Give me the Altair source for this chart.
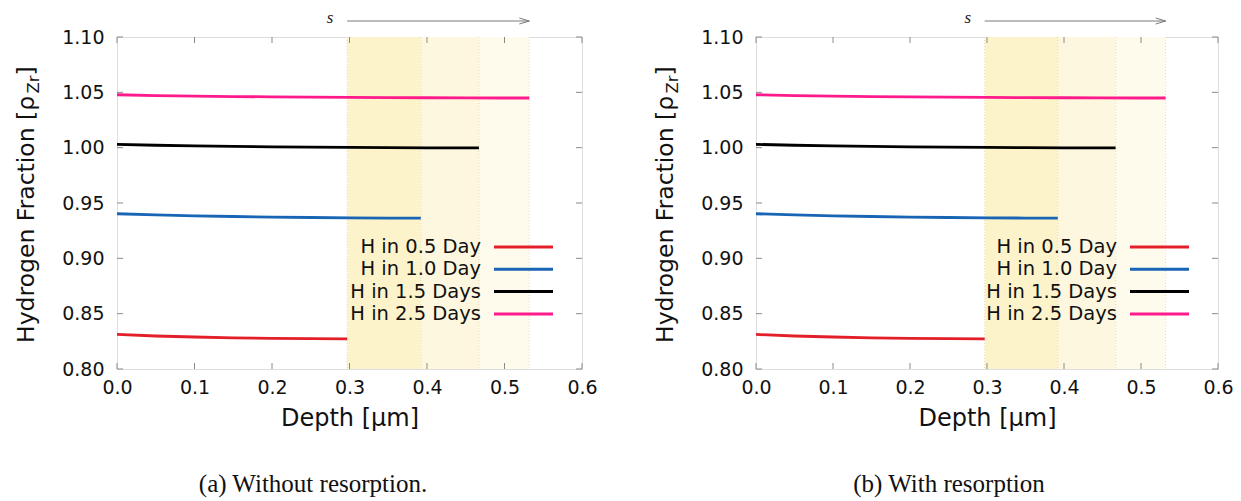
import altair as alt
import pandas as pd

# Hydrogen profiles along depth (µm) for each charging time
depth_05 = [0.0, 0.05, 0.10, 0.15, 0.20, 0.25, 0.297]
frac_05 = [0.8312, 0.8298, 0.8289, 0.8282, 0.8277, 0.8274, 0.8272]

depth_10 = [0.0, 0.05, 0.10, 0.15, 0.20, 0.25, 0.30, 0.35, 0.392]
frac_10 = [0.9403, 0.9392, 0.9384, 0.9378, 0.9373, 0.9369, 0.9366, 0.9364, 0.9363]

depth_15 = [0.0, 0.05, 0.10, 0.15, 0.20, 0.25, 0.30, 0.35, 0.40, 0.467]
frac_15 = [1.0030, 1.0022, 1.0016, 1.0011, 1.0007, 1.0004, 1.0002, 1.0000, 0.9999, 0.9998]

depth_25 = [0.0, 0.05, 0.10, 0.15, 0.20, 0.25, 0.30, 0.35, 0.40, 0.45, 0.50, 0.532]
frac_25 = [1.0478, 1.0471, 1.0466, 1.0462, 1.0459, 1.0456, 1.0454, 1.0452, 1.0451, 1.0450, 1.0449, 1.0449]

series_names = ["H in 0.5 Day", "H in 1.0 Day", "H in 1.5 Days", "H in 2.5 Days"]
series_colors = ["#e3202a", "#1765b4", "#000000", "#ff1a8c"]

# Shaded depth bands (surface layer growth)
shade_start = [0.297, 0.392, 0.467]
shade_end = [0.392, 0.467, 0.532]
shade_names = ["band1", "band2", "band3"]
shade_colors = ["#fdf3cb", "#fdf7df", "#fefaec"]
shade_edges = [0.297, 0.392, 0.467, 0.532]

arrow_from = 0.297
arrow_to = 0.532
arrow_label_x = 0.275

x_ticks = [0.0, 0.1, 0.2, 0.3, 0.4, 0.5, 0.6]
y_ticks = [0.80, 0.85, 0.90, 0.95, 1.00, 1.05, 1.10]

captions = ["(a) Without resorption.", "(b) With resorption"]

H = 332
SANS = "DejaVu Sans"
SERIF = "Liberation Serif"

rows = []
for name, ds, fs in zip(series_names,
                        [depth_05, depth_10, depth_15, depth_25],
                        [frac_05, frac_10, frac_15, frac_25]):
    for d, f in zip(ds, fs):
        rows.append({"series": name, "depth": d, "frac": f})
lines_df = pd.DataFrame(rows)


def panel(width, caption, cap_x):
    xs = alt.Scale(domain=[0, 0.6], nice=False, zero=False)
    ys = alt.Scale(domain=[0.8, 1.1], nice=False, zero=False)
    xa = alt.Axis(values=x_ticks, format=".1f", ticks=False, domain=False, grid=False,
                  labelFlush=False, labelFont=SANS, labelFontSize=19, labelColor="#111",
                  labelPadding=9, title="Depth [μm]", titleFont=SANS, titleFontSize=24,
                  titleFontWeight="normal", titleColor="#111", titlePadding=9)
    ya = alt.Axis(values=y_ticks, format=".2f", ticks=False, domain=False, grid=False,
                  labelFlush=False, labelFont=SANS, labelFontSize=19, labelColor="#111",
                  labelPadding=13, title=None)

    def X(field=None, datum=None):
        if datum is not None:
            return alt.X(datum=datum, type="quantitative", scale=xs, axis=xa)
        return alt.X(field, type="quantitative", scale=xs, axis=xa)

    def Y(field):
        return alt.Y(field, type="quantitative", scale=ys, axis=ya)

    layers = []

    bands = pd.DataFrame({"s": shade_start, "e": shade_end, "band": shade_names})
    layers.append(
        alt.Chart(bands).mark_rect().encode(
            x=X("s"), x2="e", y=alt.value(0), y2=alt.value(H),
            fill=alt.Fill("band:N", scale=alt.Scale(domain=shade_names, range=shade_colors),
                          legend=None),
        )
    )
    layers.append(
        alt.Chart(pd.DataFrame({"b": shade_edges})).mark_rule(
            color="#e2d79f", strokeWidth=0.8, strokeDash=[1, 2]
        ).encode(x=X("b"), y=alt.value(0), y2=alt.value(H))
    )

    xt = pd.DataFrame({"t": x_ticks})
    yt = pd.DataFrame({"t": y_ticks})
    tick_color = "#8a8a8a"
    layers.append(alt.Chart(xt).mark_rule(color=tick_color).encode(
        x=X("t"), y=alt.value(H), y2=alt.value(H - 6)))
    layers.append(alt.Chart(xt).mark_rule(color=tick_color).encode(
        x=X("t"), y=alt.value(0), y2=alt.value(6)))
    layers.append(alt.Chart(yt).mark_rule(color=tick_color).encode(
        y=Y("t"), x=alt.value(0), x2=alt.value(6)))
    layers.append(alt.Chart(yt).mark_rule(color=tick_color).encode(
        y=Y("t"), x=alt.value(width), x2=alt.value(width - 6)))

    layers.append(
        alt.Chart(lines_df).mark_line(strokeWidth=2.8).encode(
            x=X("depth"), y=Y("frac"),
            stroke=alt.Stroke("series:N",
                              scale=alt.Scale(domain=series_names, range=series_colors),
                              legend=None),
        )
    )

    # key drawn inside the plot: label, then sample line
    for i, (name, col) in enumerate(zip(series_names, series_colors)):
        yy = 210 + 22.3 * i
        layers.append(
            alt.Chart(pd.DataFrame({"label": [name]})).mark_text(
                align="right", baseline="middle", font=SANS, fontSize=19.5, color="#111"
            ).encode(x=alt.value(width - 101), y=alt.value(yy), text="label:N")
        )
        layers.append(
            alt.Chart(pd.DataFrame({"label": [name]})).mark_rule(
                color=col, strokeWidth=3
            ).encode(x=alt.value(width - 88), x2=alt.value(width - 29), y=alt.value(yy))
        )

    # growth arrow above the frame
    one = pd.DataFrame({"k": [0]})
    layers.append(
        alt.Chart(one).mark_rule(color="#7a7a7a", strokeWidth=1).encode(
            x=X(datum=arrow_from), x2=alt.datum(arrow_to), y=alt.value(-16))
    )
    layers.append(
        alt.Chart(one).mark_point(
            shape="M-1,-0.3L0,0L-1,0.3", filled=False, size=400,
            color="#7a7a7a", strokeWidth=1, opacity=1
        ).encode(x=X(datum=arrow_to), y=alt.value(-16))
    )
    layers.append(
        alt.Chart(pd.DataFrame({"label": ["s"]})).mark_text(
            font=SERIF, fontStyle="italic", fontSize=17, baseline="middle", color="#222"
        ).encode(x=X(datum=arrow_label_x), y=alt.value(-19), text="label:N")
    )

    # rotated axis title with subscript
    title_base = 306
    main_len = 10.613 * 23.5
    sub_len = (0.685 + 0.411) * 16.5
    pieces = [
        ("Hydrogen Fraction [ρ", 23.5, -83, title_base),
        ("Zr", 16.5, -78, title_base - main_len),
        ("]", 23.5, -83, title_base - main_len - sub_len),
    ]
    for txt, fsz, px, py in pieces:
        layers.append(
            alt.Chart(pd.DataFrame({"label": [txt]})).mark_text(
                angle=270, align="left", baseline="alphabetic", font=SANS, fontSize=fsz,
                color="#111"
            ).encode(x=alt.value(px), y=alt.value(py), text="label:N")
        )

    layers.append(
        alt.Chart(pd.DataFrame({"label": [caption]})).mark_text(
            font=SERIF, fontSize=25, baseline="middle", align="center", color="#111"
        ).encode(x=alt.value(cap_x), y=alt.value(447), text="label:N")
    )

    return alt.layer(*layers).properties(width=width, height=H)


left = panel(465, captions[0], 196)
right = panel(462, captions[1], 193)

chart = alt.hconcat(left, right, spacing=174, bounds="flush").properties(
    padding={"left": 14, "top": 8, "right": 0, "bottom": 0}
).configure_view(stroke="#4a4a4a", strokeWidth=1.2).configure(background="white")

chart.save("out.html", embed_options={"renderer": "svg", "actions": False})
